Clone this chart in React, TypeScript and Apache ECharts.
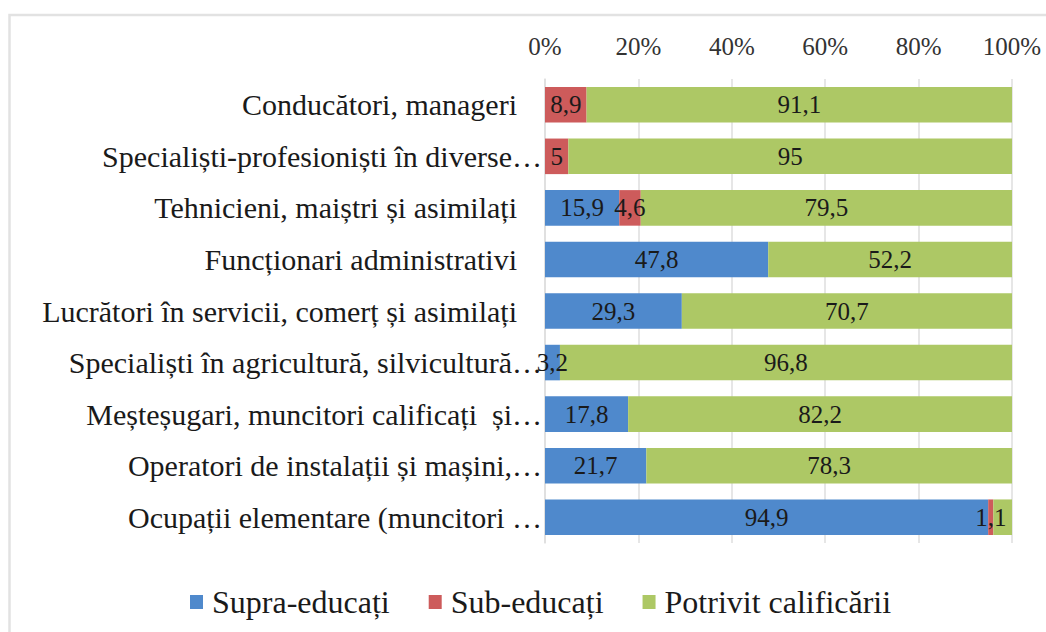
import React, { useEffect, useRef } from "react";
import * as echarts from "echarts";

const categories = [
  "Conducători, manageri",
  "Specialiști-profesioniști în diverse…",
  "Tehnicieni, maiștri și asimilați",
  "Funcționari administrativi",
  "Lucrători în servicii, comerț și asimilați",
  "Specialiști în agricultură, silvicultură…",
  "Meșteșugari, muncitori calificați  și…",
  "Operatori de instalații și mașini,…",
  "Ocupații elementare (muncitori …",
];
const supraEducati = [0, 0, 15.9, 47.8, 29.3, 3.2, 17.8, 21.7, 94.9];
const subEducati = [8.9, 5, 4.6, 0, 0, 0, 0, 0, 1.1];
const potrivit = [91.1, 95, 79.5, 52.2, 70.7, 96.8, 82.2, 78.3, 4.0];
const potrivitLabelShown = [true, true, true, true, true, true, true, true, false];
const seriesNames = ["Supra-educați", "Sub-educați", "Potrivit calificării"];
const xTicks = [0, 20, 40, 60, 80, 100];

const FONT = "Liberation Serif";

export default function App() {
  const ref = useRef<HTMLDivElement>(null);
  useEffect(() => {
    if (!ref.current) return;
    const chart = echarts.init(ref.current, undefined, { renderer: "svg" });
    const fmt = (v: number) => (v === 0 ? "" : String(v).replace(".", ","));
    const labelBase = {
      show: true,
      position: "inside" as const,
      color: "#1a1a1a",
      fontFamily: FONT,
      fontSize: 25,
    };
    chart.setOption({
      animation: false,
      backgroundColor: "#ffffff",
      textStyle: { fontFamily: FONT },
      graphic: [
        {
          type: "rect",
          shape: { x: 9.5, y: 15, width: 1200, height: 800 },
          style: { fill: "none", stroke: "#e2e2e2", lineWidth: 2.5 },
          silent: true,
        },
      ],
      grid: { left: 545, right: 34, top: 79, bottom: 89, containLabel: false },
      legend: {
        left: 185,
        top: 581,
        icon: "rect",
        itemWidth: 13,
        itemHeight: 14,
        itemGap: 39,
        textStyle: { fontFamily: FONT, fontSize: 32, color: "#1a1a1a", padding: [0, 0, 0, 4] },
        data: seriesNames,
      },
      xAxis: {
        type: "value",
        position: "top",
        min: xTicks[0],
        max: xTicks[xTicks.length - 1],
        interval: 20,
        axisLine: { show: false },
        axisTick: { show: false },
        axisLabel: {
          formatter: "{value}%",
          fontFamily: FONT,
          fontSize: 25,
          color: "#333333",
          margin: 20,
        },
        splitLine: { show: true, lineStyle: { color: "#dedede", width: 1.5 } },
      },
      yAxis: {
        type: "category",
        inverse: true,
        data: categories,
        axisLine: { show: true, lineStyle: { color: "#dedede", width: 1.5 } },
        axisTick: { show: false },
        axisLabel: {
          margin: 3,
          fontFamily: FONT,
          fontSize: 30,
          color: "#1a1a1a",
          formatter: (v: string) => (v.endsWith("…") ? "{t|" + v + "}" : "{n|" + v + "}"),
          rich: {
            t: { fontFamily: FONT, fontSize: 30, color: "#1a1a1a" },
            n: { fontFamily: FONT, fontSize: 30, color: "#1a1a1a", padding: [0, 25, 0, 0] },
          },
        },
      },
      series: [
        {
          name: seriesNames[0],
          type: "bar",
          stack: "total",
          barCategoryGap: "31%",
          itemStyle: { color: "#4f89cc" },
          label: { ...labelBase, formatter: (p: any) => fmt(p.value) },
          data: supraEducati,
        },
        {
          name: seriesNames[1],
          type: "bar",
          stack: "total",
          barCategoryGap: "31%",
          itemStyle: { color: "#cd5b5b" },
          label: { ...labelBase, formatter: (p: any) => fmt(p.value) },
          data: subEducati,
        },
        {
          name: seriesNames[2],
          type: "bar",
          stack: "total",
          barCategoryGap: "31%",
          itemStyle: { color: "#adc865" },
          label: {
            ...labelBase,
            formatter: (p: any) => (potrivitLabelShown[p.dataIndex] ? fmt(p.value) : ""),
          },
          data: potrivit,
        },
      ],
    });
    return () => chart.dispose();
  }, []);
  return (
    <div
      ref={ref}
      style={{ position: "fixed", left: 0, top: 0, width: 1046, height: 632 }}
    />
  );
}
